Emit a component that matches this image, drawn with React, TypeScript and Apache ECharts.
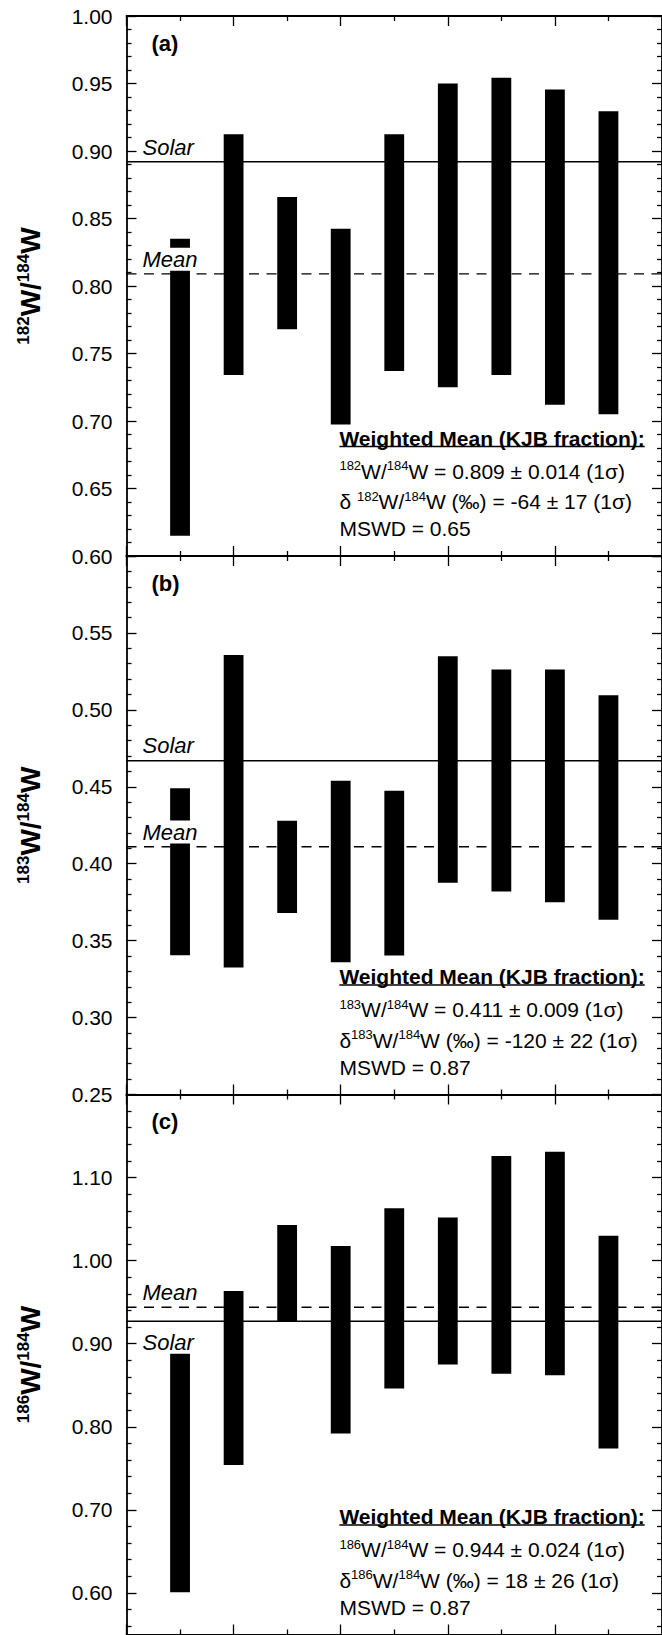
import React, { useEffect, useRef } from 'react';
import * as echarts from 'echarts';

// ---------- data ----------
const SAMPLES = [1, 2, 3, 4, 5, 6, 7, 8, 9];
const A_LOW = [0.615, 0.734, 0.768, 0.6975, 0.737, 0.725, 0.734, 0.712, 0.705];
const A_HIGH = [0.835, 0.9125, 0.866, 0.8425, 0.9125, 0.95, 0.9543, 0.9455, 0.9295];
const B_LOW = [0.3405, 0.3325, 0.368, 0.336, 0.3403, 0.3877, 0.382, 0.375, 0.3635];
const B_HIGH = [0.449, 0.5357, 0.428, 0.454, 0.4474, 0.5348, 0.5263, 0.5263, 0.5095];
const C_LOW = [0.601, 0.754, 0.927, 0.792, 0.846, 0.875, 0.864, 0.862, 0.774];
const C_HIGH = [0.888, 0.9635, 1.043, 1.0175, 1.063, 1.052, 1.126, 1.131, 1.03];
const SOLAR = [0.892, 0.467, 0.927];
const MEAN = [0.809, 0.411, 0.944];
const Y_MIN = [0.6, 0.25, 0.55];
const Y_MAX = [1.0, 0.6, 1.2];
const C_MAJOR_TICKS = [0.6, 0.7, 0.8, 0.9, 1.0, 1.1];
const C_MINOR_TICKS = [0.56, 0.58, 0.62, 0.64, 0.66, 0.68, 0.72, 0.74, 0.76, 0.78, 0.82, 0.84, 0.86, 0.88, 0.92, 0.94, 0.96, 0.98, 1.02, 1.04, 1.06, 1.08, 1.12, 1.14, 1.16, 1.18];
const PANEL_LABELS = ['(a)', '(b)', '(c)'];
const ISOTOPES = ['182', '183', '186'];
const RATIO_TEXT = ['0.809 ± 0.014', '0.411 ± 0.009', '0.944 ± 0.024'];
const DELTA_PREFIX = ['δ ', 'δ', 'δ'];
const DELTA_TEXT = ['-64 ± 17', '-120 ± 22', '18 ± 26'];
const MSWD_TEXT = ['0.65', '0.87', '0.87'];
const TITLE = 'Weighted Mean (KJB fraction):';

// ---------- layout ----------
const W = 662;
const H = 1635;
const GRID_LEFT = 126.5;
const GRID_RIGHT = -3.5;
const PANELS = [
  { top: 16, height: 540 },
  { top: 556, height: 538.5 },
  { top: 1094.5, height: 540 },
];
const FONT = '"Liberation Sans", Arial, Helvetica, sans-serif';
const BAR_FRAC = 0.37;

const axisLine = { show: true, onZero: false, lineStyle: { color: '#000', width: 1.8 } };
const tickStyle = { color: '#000', width: 1.3 };

function makeXAxes(gi: number) {
  return ['bottom', 'top'].map((pos) => ({
    type: 'value',
    gridIndex: gi,
    position: pos,
    min: 0,
    max: 10,
    interval: 2,
    axisLine,
    axisTick: { show: true, inside: true, length: 10, lineStyle: tickStyle },
    minorTick: { show: true, splitNumber: 2, length: 5, lineStyle: tickStyle },
    axisLabel: { show: false },
    splitLine: { show: false },
    minorSplitLine: { show: false },
  }));
}

const labelStyle = (k: number) => ({
  show: true,
  fontSize: 21,
  color: '#000',
  fontFamily: FONT,
  margin: 14,
  formatter: (v: number) => v.toFixed(2),
  showMaxLabel: k !== 1,
  showMinLabel: true,
});

function makeYAxesAB(gi: number, k: number) {
  const base = {
    type: 'value',
    gridIndex: gi,
    min: Y_MIN[k],
    max: Y_MAX[k],
    interval: 0.05,
    axisLine,
    axisTick: { show: true, inside: true, length: 10, lineStyle: tickStyle },
    minorTick: { show: true, splitNumber: 5, length: 5, lineStyle: tickStyle },
    splitLine: { show: false },
    minorSplitLine: { show: false },
  };
  return [
    { ...base, position: 'left', axisLabel: labelStyle(k) },
    { ...base, position: 'right', axisLabel: { show: false } },
  ];
}

function makeYAxesC(gi: number, k: number) {
  const base = {
    type: 'value',
    gridIndex: gi,
    min: Y_MIN[k],
    max: Y_MAX[k],
    splitLine: { show: false },
    minorTick: { show: false },
  };
  const major = {
    ...base,
    axisLine,
    axisTick: { show: true, inside: true, length: 10, lineStyle: tickStyle, customValues: C_MAJOR_TICKS },
  };
  const minor = {
    ...base,
    axisLine: { show: false, onZero: false },
    axisTick: { show: true, inside: true, length: 5, lineStyle: tickStyle, customValues: C_MINOR_TICKS },
    axisLabel: { show: false },
  };
  return [
    { ...major, position: 'left', axisLabel: { ...labelStyle(k), customValues: C_MAJOR_TICKS } },
    { ...minor, position: 'left' },
    { ...major, position: 'right', axisLabel: { show: false } },
    { ...minor, position: 'right' },
  ];
}

export default function App() {
  const ref = useRef<HTMLDivElement>(null);

  useEffect(() => {
    const el = ref.current;
    if (!el) return;
    const chart = echarts.init(el, undefined, { renderer: 'svg' });

    const grids = PANELS.map((p) => ({ left: GRID_LEFT, right: GRID_RIGHT, top: p.top, height: p.height, containLabel: false }));
    const xAxes: any[] = [];
    const yAxes: any[] = [];
    const series: any[] = [];
    const lows = [A_LOW, B_LOW, C_LOW];
    const highs = [A_HIGH, B_HIGH, C_HIGH];
    const solarIdx: number[] = [];
    const meanIdx: number[] = [];

    PANELS.forEach((_, k) => {
      const xi = xAxes.length;
      xAxes.push(...makeXAxes(k));
      const yi = yAxes.length;
      yAxes.push(...(k < 2 ? makeYAxesAB(k, k) : makeYAxesC(k, k)));

      series.push({
        type: 'custom',
        xAxisIndex: xi,
        yAxisIndex: yi,
        silent: true,
        z: 3,
        data: SAMPLES.map((s, i) => [s, lows[k][i], highs[k][i]]),
        encode: { x: 0, y: [1, 2] },
        renderItem: (params: any, api: any) => {
          const x = api.value(0);
          const top = api.coord([x, api.value(2)]);
          const bot = api.coord([x, api.value(1)]);
          const w = api.size([BAR_FRAC, 0])[0];
          return {
            type: 'rect',
            shape: { x: top[0] - w / 2, y: top[1], width: w, height: bot[1] - top[1] },
            style: { fill: '#000' },
          };
        },
      });
      solarIdx.push(series.length);
      series.push({
        type: 'line',
        xAxisIndex: xi,
        yAxisIndex: yi,
        silent: true,
        symbol: 'none',
        z: 2,
        data: [[0, SOLAR[k]], [10, SOLAR[k]]],
        lineStyle: { color: '#000', width: 1.5, type: 'solid' },
      });
      meanIdx.push(series.length);
      series.push({
        type: 'line',
        xAxisIndex: xi,
        yAxisIndex: yi,
        silent: true,
        symbol: 'none',
        z: 2,
        data: [[0, MEAN[k]], [10, MEAN[k]]],
        lineStyle: { color: '#000', width: 1.4, type: [10, 7.5] },
      });
    });

    chart.setOption({
      animation: false,
      backgroundColor: '#fff',
      grid: grids,
      xAxis: xAxes,
      yAxis: yAxes,
      series,
    });

    const ctx = document.createElement('canvas').getContext('2d');
    let titleW = 305;
    if (ctx) {
      ctx.font = `bold 21px ${FONT}`;
      titleW = ctx.measureText(TITLE).width;
    }

    const txt = (x: number, y: number, text: string, extra: any = {}, elExtra: any = {}) => ({
      type: 'text',
      x,
      y,
      z: 100,
      silent: true,
      ...elExtra,
      style: {
        text,
        fill: '#000',
        fontFamily: FONT,
        fontSize: 21,
        align: 'left',
        textAlign: 'left',
        verticalAlign: 'middle',
        textVerticalAlign: 'middle',
        ...extra,
      },
    });

    const rich = (size: number, sup: number, weight: string) => ({
      n: { fontSize: size, fontFamily: FONT, fontWeight: weight, fill: '#000', lineHeight: size + 3 },
      s: { fontSize: sup, fontFamily: FONT, fontWeight: weight, fill: '#000', lineHeight: sup, verticalAlign: 'top' },
    });

    const graphics: any[] = [];
    const ANN_X = 339.4;
    PANELS.forEach((p, k) => {
      const bottom = p.top + p.height;
      // panel letter
      graphics.push(txt(151.5, p.top + 27, PANEL_LABELS[k], { fontWeight: 'bold', fontSize: 22 }));
      // annotation block
      graphics.push(txt(ANN_X, bottom - 118, TITLE, { fontWeight: 'bold', fontSize: 21 }));
      graphics.push({
        type: 'line',
        z: 100,
        silent: true,
        shape: { x1: ANN_X, y1: bottom - 109.5, x2: ANN_X + titleW, y2: bottom - 109.5 },
        style: { stroke: '#000', lineWidth: 1.7 },
      });
      graphics.push(
        txt(ANN_X, bottom - 85, `{s|${ISOTOPES[k]}}{n|W/}{s|184}{n|W = ${RATIO_TEXT[k]} (1σ)}`, {
          rich: rich(21, 13, 'normal'),
        })
      );
      graphics.push(
        txt(ANN_X, bottom - 54.5, `{n|${DELTA_PREFIX[k]}}{s|${ISOTOPES[k]}}{n|W/}{s|184}{n|W (‰) = ${DELTA_TEXT[k]} (1σ)}`, {
          rich: rich(21, 13, 'normal'),
        })
      );
      graphics.push(txt(ANN_X, bottom - 27.5, `MSWD = ${MSWD_TEXT[k]}`));
      // y-axis title
      graphics.push(
        txt(
          30,
          p.top + p.height / 2,
          `{s|${ISOTOPES[k]}}{n|W/}{s|184}{n|W}`,
          { align: 'center', textAlign: 'center', fontWeight: 'bold', fontSize: 28, rich: rich(28, 17, 'bold') },
          { rotation: Math.PI / 2 }
        )
      );
      // Solar / Mean labels
      const sp = chart.convertToPixel({ seriesIndex: solarIdx[k] }, [0, SOLAR[k]]) as number[];
      const mp = chart.convertToPixel({ seriesIndex: meanIdx[k] }, [0, MEAN[k]]) as number[];
      const solarOffset = k === 2 ? 20.7 : -14.7;
      graphics.push(txt(142.5, sp[1] + solarOffset, 'Solar', { fontStyle: 'italic', fontSize: 22, lineHeight: 23 }));
      graphics.push(
        txt(142.5, mp[1] - 14.7, 'Mean', { fontStyle: 'italic', fontSize: 22, lineHeight: 23, backgroundColor: '#fff' })
      );
    });

    chart.setOption({ graphic: graphics });

    return () => {
      chart.dispose();
    };
  }, []);

  return (
    <div
      ref={ref}
      style={{ position: 'absolute', left: 0, top: 0, width: W, height: H, overflow: 'hidden', background: '#fff' }}
    />
  );
}
